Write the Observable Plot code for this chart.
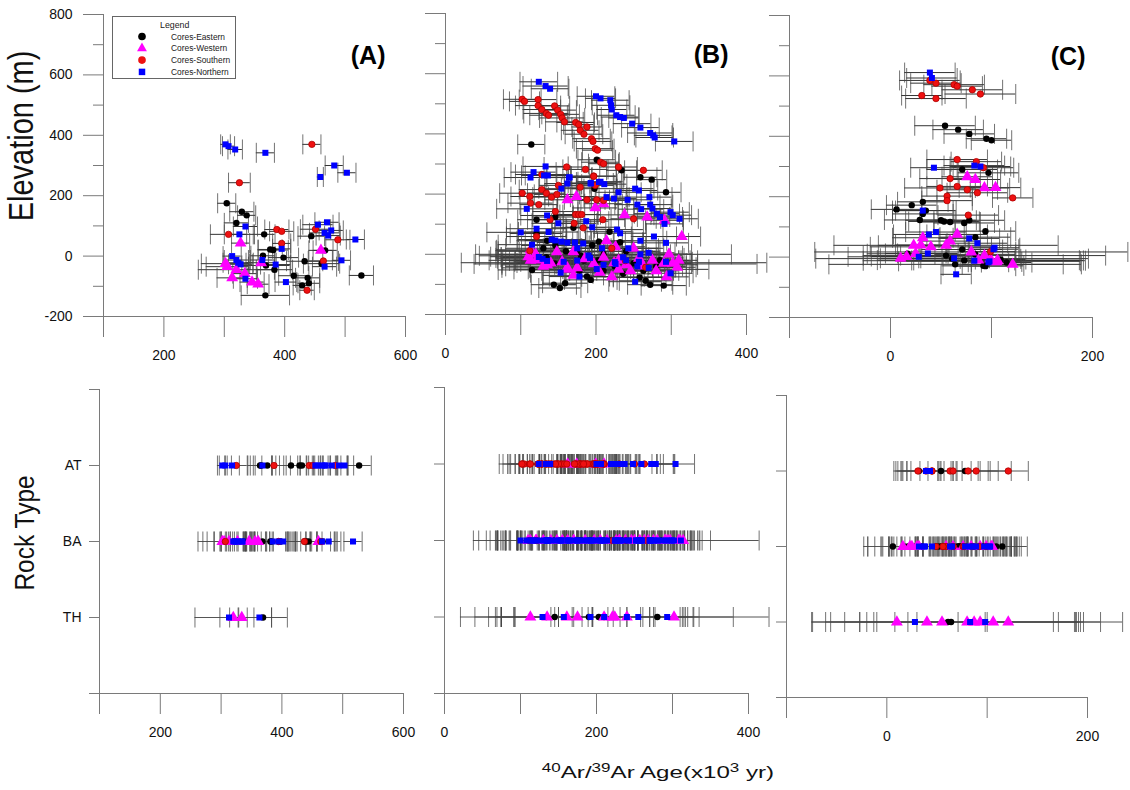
<!DOCTYPE html>
<html><head><meta charset="utf-8">
<script src="https://cdn.jsdelivr.net/npm/d3@7"></script>
<script src="https://cdn.jsdelivr.net/npm/@observablehq/plot@0.6"></script>
<style>
body{margin:0;background:#fff;}
#chart{position:relative;width:1130px;height:790px;overflow:hidden;font-family:"Liberation Sans",Arial,sans-serif;background:#fff;}
#chart svg{position:absolute;}
</style></head><body><div id="chart"></div>
<script>
// ---------- categories / ticks ----------
const groups = ["Cores-Eastern","Cores-Western","Cores-Southern","Cores-Northern"];
const rockTypes = ["TH","BA","AT"];
const xTicksA = [100,200,300,400,500,600], xLabelsA = [200,400,600];
const xTicksB = [0,100,200,300,400], xLabelsB = [0,200,400];
const xTicksC = [-100,0,100,200], xLabelsC = [0,200];
const elevMajor = [-200,0,200,400,600,800];
const elevMinor = [-100,100,300,500,700];
const rockTicks = [0,1,2,3,4];

// ---------- data: [age (ka), elevation (m), age error (ka), rock type] ----------
const A_eastern = [
[304,175,15,"BA"],[329,147,20,"BA"],[337,135,15,"BA"],[320,110,20,"BA"],[366,72,18,"AT"],[444,66,22,"BA"],[376,22,20,"AT"],[381,20,25,"BA"],[364,1,20,"AT"],[398,-5,25,"BA"],[467,19,20,"BA"],[369,-31,40,"TH"],[383,-45,30,"BA"],[415,-65,25,"AT"],[433,-17,30,"AT"],[461,-25,30,"BA"],[438,-72,20,"BA"],[429,-97,15,"AT"],[440,-90,18,"BA"],[368,-130,40,"BA"],[527,-64,20,"AT"]];
const A_western = [
[327,43,15,"BA"],[460,19,20,"BA"],[302,-25,40,"BA"],[305,-35,35,"BA"],[313,-72,25,"BA"],[320,-45,63,"TH"],[334,-58,20,"TH"],[346,-86,20,"BA"],[356,-93,18,"BA"],[361,-22,25,"BA"]];
const A_southern = [
[445,370,15,"AT"],[325,243,18,"AT"],[307,72,30,"BA"],[387,88,20,"AT"],[395,82,20,"BA"],[395,42,15,"BA"],[451,89,25,"AT"],[488,54,20,"AT"],[464,-16,25,"BA"],[437,-113,12,"BA"]];
const A_northern = [
[302,370,8,"AT"],[307,364,10,"AT"],[318,353,12,"AT"],[368,342,15,"AT"],[482,300,15,"AT"],[503,276,15,"AT"],[459,262,5,"AT"],[325,72,25,"BA"],[335,98,20,"BA"],[455,104,25,"AT"],[470,112,20,"AT"],[466,77,25,"AT"],[472,68,20,"AT"],[477,85,20,"BA"],[517,55,15,"BA"],[395,24,15,"BA"],[313,0,15,"TH"],[320,-13,20,"BA"],[323,-22,25,"BA"],[327,-27,20,"BA"],[363,-13,20,"TH"],[385,-28,25,"BA"],[335,-75,20,"BA"],[402,-86,18,"BA"],[466,-35,20,"BA"],[494,-14,15,"AT"]];

const B_eastern = [
[114,365,18,"BA"],[201,314,25,"AT"],[234,279,20,"BA"],[259,256,22,"BA"],[274,248,20,"BA"],[198,218,30,"BA"],[293,206,20,"BA"],[121,115,25,"BA"],[146,124,30,"BA"],[170,88,28,"BA"],[218,75,30,"BA"],[121,69,35,"BA"],[232,40,30,"BA"],[204,42,35,"BA"],[135,45,40,"BA"],[146,29,45,"BA"],[184,-21,40,"BA"],[210,-55,45,"BA"],[236,-65,40,"BA"],[178,-55,50,"BA"],[263,-55,40,"BA"],[266,-88,35,"BA"],[115,-52,45,"BA"],[144,-101,30,"BA"],[152,-112,28,"BA"],[159,-96,30,"BA"],[188,-74,35,"BA"],[193,-85,35,"BA"],[272,-101,30,"BA"],[290,-104,30,"BA"],[258,-77,35,"BA"],[134,-10,60,"TH"],[145,-30,70,"TH"],[190,-5,50,"TH"],[203,-20,110,"TH"],[280,-40,40,"TH"],[210,0,170,"TH"],[160,10,45,"BA"],[250,-30,45,"BA"],[285,-20,40,"BA"],[225,-40,50,"BA"],[130,20,50,"BA"],[195,30,40,"BA"],[240,10,45,"BA"],[180,-5,135,"BA"],[175,10,105,"BA"]];
const B_western = [
[162,181,30,"AT"],[174,192,25,"AT"],[199,154,30,"AT"],[210,168,25,"AT"],[238,131,35,"BA"],[268,124,30,"BA"],[291,113,25,"BA"],[314,59,25,"BA"],[214,45,35,"BA"],[113,15,45,"BA"],[110,-8,50,"BA"],[121,-19,45,"BA"],[226,25,40,"BA"],[257,-13,40,"BA"],[297,1,30,"BA"],[308,-43,25,"BA"],[221,-75,40,"TH"],[246,-55,45,"BA"],[162,-45,50,"BA"],[140,-29,45,"BA"],[197,-32,50,"BA"],[263,-39,40,"BA"],[294,-75,30,"BA"],[170,8,45,"BA"],[148,8,50,"BA"],[113,-20,55,"TH"],[135,-35,60,"TH"],[161,-50,70,"TH"],[175,-45,100,"TH"],[210,-10,60,"TH"],[240,-35,95,"TH"],[302,-30,25,"TH"],[224,-28,203,"TH"],[185,-15,45,"BA"],[275,-20,35,"BA"],[130,-40,50,"BA"],[250,20,40,"BA"],[170,-70,40,"BA"],[120,0,50,"BA"],[280,-55,30,"BA"],[205,-60,45,"BA"],[155,-25,55,"BA"],[230,-20,45,"BA"],[290,-30,30,"BA"],[310,-20,25,"BA"],[230,-50,120,"BA"]];
const B_southern = [
[102,515,25,"AT"],[105,508,20,"AT"],[123,514,25,"AT"],[123,494,30,"AT"],[128,481,25,"AT"],[134,468,30,"AT"],[137,462,25,"AT"],[145,493,20,"AT"],[149,479,25,"AT"],[153,465,25,"AT"],[155,453,30,"AT"],[158,440,25,"AT"],[173,438,25,"AT"],[177,431,20,"AT"],[179,412,25,"AT"],[184,399,25,"AT"],[188,423,20,"AT"],[194,384,25,"AT"],[196,375,25,"AT"],[199,351,25,"AT"],[202,346,20,"AT"],[206,306,25,"AT"],[210,301,20,"AT"],[230,290,25,"AT"],[263,279,25,"AT"],[161,290,30,"AT"],[186,282,30,"AT"],[197,260,30,"AT"],[128,265,35,"AT"],
[102,203,30,"AT"],[112,192,25,"AT"],[113,170,30,"AT"],[124,165,25,"AT"],[128,215,30,"AT"],[134,203,25,"AT"],[141,190,25,"AT"],[148,199,30,"AT"],[150,229,25,"AT"],[179,223,25,"AT"],[197,259,30,"AT"],[199,229,25,"AT"],[188,181,30,"AT"],[201,181,25,"AT"],[210,179,30,"AT"],[146,142,30,"AT"],[173,132,25,"AT"],[177,132,25,"AT"],[181,132,25,"AT"],[139,115,30,"AT"],[171,103,30,"AT"],[183,88,30,"AT"],[209,115,30,"AT"],[250,118,30,"AT"],[112,12,45,"BA"],[121,59,40,"BA"],[221,20,40,"BA"],[239,-21,45,"BA"],[266,-43,40,"BA"]];
const B_northern = [
[124,573,25,"AT"],[133,559,30,"AT"],[139,550,25,"AT"],[200,525,25,"AT"],[206,518,20,"AT"],[219,512,25,"AT"],[220,495,25,"AT"],[221,481,20,"AT"],[227,462,25,"AT"],[232,456,25,"AT"],[237,453,20,"AT"],[248,434,25,"AT"],[259,421,25,"AT"],[272,403,30,"AT"],[276,395,25,"AT"],[278,388,25,"AT"],[304,375,25,"AT"],
[117,273,30,"BA"],[113,255,35,"BA"],[133,292,30,"BA"],[131,262,30,"BA"],[136,262,30,"BA"],[165,256,30,"BA"],[204,240,30,"BA"],[193,235,35,"BA"],[108,151,40,"BA"],[100,73,45,"BA"],[135,129,35,"BA"],[150,103,35,"BA"],[187,110,30,"BA"],[195,90,35,"BA"],[214,190,30,"BA"],[224,185,30,"BA"],[230,206,30,"BA"],[242,181,30,"BA"],[252,218,25,"BA"],[257,212,25,"BA"],[255,165,30,"BA"],[260,150,30,"BA"],[271,190,30,"BA"],[272,165,30,"BA"],[275,152,25,"BA"],[281,135,30,"BA"],[285,124,30,"BA"],[291,101,25,"BA"],[299,140,25,"BA"],[302,130,25,"BA"],[311,118,25,"BA"],[162,235,30,"BA"],[164,255,30,"BA"],[154,218,30,"BA"],[193,237,30,"BA"],[206,241,30,"BA"],[211,233,30,"BA"],
[121,85,40,"BA"],[137,74,40,"BA"],[141,49,45,"BA"],[146,46,40,"BA"],[154,42,40,"BA"],[162,39,40,"BA"],[172,39,40,"BA"],[183,36,40,"BA"],[175,20,45,"BA"],[190,-4,45,"BA"],[228,82,35,"BA"],[232,70,35,"BA"],[259,45,35,"BA"],[277,59,30,"BA"],[293,38,30,"BA"],[243,20,40,"BA"],[270,5,35,"BA"],[208,20,40,"BA"],[124,-9,50,"BA"],[135,-22,50,"BA"],[175,-21,45,"BA"],[201,-49,45,"BA"],[225,-26,45,"BA"],[257,-25,40,"BA"],[270,-45,35,"BA"],[252,-91,35,"BA"],[178,-74,40,"BA"],[153,-61,40,"BA"],[299,-63,30,"BA"],[259,0,40,"BA"],[236,-10,45,"BA"],[115,32,45,"BA"],
[129,-15,60,"TH"],[157,-25,65,"TH"],[192,-12,125,"TH"],[210,-35,60,"TH"],[240,-20,70,"TH"],[255,-40,60,"TH"],[293,-25,35,"TH"],[226,-32,188,"BA"]];

const C_eastern = [
[54,435,30,"AT"],[67,422,25,"BA"],[78,408,25,"AT"],[95,392,20,"BA"],[100,387,20,"BA"],[71,290,35,"BA"],[97,279,30,"BA"],[6,158,25,"BA"],[21,172,25,"BA"],[32,183,25,"AT"],[35,154,30,"BA"],[32,143,30,"BA"],[29,123,35,"BA"],[50,122,35,"BA"],[53,118,35,"BA"],[59,116,30,"BA"],[78,122,35,"BA"],[73,113,30,"BA"],[94,86,30,"BA"],[84,66,35,"BA"],[71,25,40,"BA"],[84,9,40,"BA"],[109,-8,25,"BA"],[17,11,40,"BA"],[55,5,45,"BA"],[73,-11,50,"BA"],[94,-30,30,"BA"],[92,-29,40,"BA"],[115,-18,25,"BA"],[61,-5,135,"TH"],[64,-24,125,"TH"]];
const C_western = [
[76,266,25,"BA"],[84,257,25,"BA"],[93,229,25,"BA"],[104,230,25,"BA"],[66,75,30,"BA"],[32,64,30,"BA"],[23,39,35,"BA"],[59,53,30,"BA"],[16,2,35,"BA"],[25,12,30,"BA"],[30,40,25,"BA"],[99,-6,30,"BA"],[105,-16,25,"BA"],
[10,-4,20,"TH"],[40,34,60,"TH"],[55,39,111,"TH"],[80,17,155,"TH"],[87,-10,100,"TH"],[93,5,120,"TH"],[106,-11,85,"TH"],[121,-24,50,"TH"]];
const C_southern = [
[39,585,30,"AT"],[45,576,25,"AT"],[63,571,30,"AT"],[66,566,25,"AT"],[81,554,30,"AT"],[89,540,35,"AT"],[31,535,20,"AT"],[45,525,30,"AT"],[121,196,20,"AT"],
[66,323,30,"BA"],[85,316,25,"BA"],[92,296,30,"BA"],[59,260,30,"BA"],[49,229,35,"BA"],[66,234,30,"BA"],[76,223,30,"BA"],[86,213,30,"BA"],[56,202,25,"BA"],[56,187,25,"BA"],[77,139,30,"BA"],[99,18,25,"BA"]];
const C_northern = [
[39,611,25,"AT"],[41,593,25,"AT"],[43,296,23,"AT"],[83,303,30,"BA"],[89,300,30,"BA"],[32,154,30,"BA"],[38,75,35,"BA"],[45,83,30,"BA"],[78,62,30,"BA"],[86,46,30,"BA"],[103,31,25,"BA"],[37,12,30,"BA"],[63,-4,35,"BA"],[65,-57,15,"BA"],[102,26,25,"BA"],[97,-17,20,"BA"],
[28,1,70,"TH"],[83,-12,110,"TH"],[98,-14,90,"TH"]];

// ---------- styles ----------
const groupColors = ["#000000","#ff00ff","#ee1111","#0000ff"];
const groupStroke = ["none","none","#b00000","none"];
const groupSymbols = ["circle","triangle","circle","square"];
const groupRadius = [3.2, 4.4, 3.2, 3.4];
const axisGray = "#7a7a7a";
const font = "'Liberation Sans', Arial, sans-serif";

function toRows(lists) {
  return lists.flatMap((list, g) => list.map(([age, elev, err, rock]) => ({g, age, elev, err, rock})));
}
const regions = {
  A: toRows([A_eastern, A_western, A_southern, A_northern]),
  B: toRows([B_eastern, B_western, B_southern, B_northern]),
  C: toRows([C_eastern, C_western, C_southern, C_northern])
};

// vertical end-cap symbol (pixel sized)
const vline = {draw(ctx, size) { const h = Math.sqrt(size / Math.PI); ctx.moveTo(0, -h); ctx.lineTo(0, h); }};

const panels = [
  {key:"A", xDomain:[100,600], xTicks:xTicksA, xLabels:xLabelsA, showY:true, letterDx:-20,
   top:{left:0,top:0,width:420,height:370,mL:103,mR:15,mT:14,mB:54},
   bottom:{left:0,top:375,width:420,height:380,mL:99,mR:17,mT:14,mB:62}},
  {key:"B", xDomain:[0,400], xTicks:xTicksB, xLabels:xLabelsB, showY:false, letterDx:-18,
   top:{left:420,top:0,width:340,height:370,mL:25,mR:14,mT:13,mB:56},
   bottom:{left:420,top:375,width:340,height:380,mL:24,mR:12,mT:12,mB:62}},
  {key:"C", xDomain:[-100,200], xTicks:xTicksC, xLabels:xLabelsC, showY:false, letterDx:-7,
   top:{left:765,top:0,width:365,height:370,mL:24,mR:38,mT:15,mB:53},
   bottom:{left:765,top:375,width:365,height:380,mL:21,mR:43,mT:20,mB:58}}
];

const chart = document.getElementById("chart");

function errorMarks(data, yAcc, lineStroke) {
  return [
    Plot.ruleY(data, {x1: d => d.age - d.err, x2: d => d.age + d.err, y: yAcc, stroke: lineStroke, strokeWidth: 1}),
    Plot.dot(data, {x: d => d.age - d.err, y: yAcc, symbol: vline, r: 10, fill: "none", stroke: "#444", strokeOpacity: 0.75, strokeWidth: 1}),
    Plot.dot(data, {x: d => d.age + d.err, y: yAcc, symbol: vline, r: 10, fill: "none", stroke: "#444", strokeOpacity: 0.75, strokeWidth: 1})
  ];
}
function pointMarks(data, yAcc) {
  return groups.map((g, i) => Plot.dot(data.filter(d => d.g === i), {
    x: "age", y: yAcc, symbol: groupSymbols[i], r: groupRadius[i],
    fill: groupColors[i], stroke: groupStroke[i], strokeWidth: 0.8
  }));
}
function xAxis(p) {
  return Plot.axisX({ticks: p.xTicks, tickSize: 21, tickPadding: 13, label: null,
    tickFormat: d => p.xLabels.includes(d) ? String(d) : "", stroke: axisGray, fill: "#111", fontSize: 14});
}
function place(svg, box) {
  svg.style.left = box.left + "px"; svg.style.top = box.top + "px";
  chart.appendChild(svg);
}
const baseStyle = {fontFamily: font, fontSize: "14px", color: "#111", background: "transparent", overflow: "visible"};

for (const p of panels) {
  const data = regions[p.key];
  // top: elevation vs age
  const t = p.top;
  const topSvg = Plot.plot({
    width: t.width, height: t.height, marginLeft: t.mL, marginRight: t.mR, marginTop: t.mT, marginBottom: t.mB,
    x: {domain: p.xDomain}, y: {domain: [-200, 800]}, style: baseStyle,
    marks: [
      ...errorMarks(data, "elev", "#333"),
      ...pointMarks(data, "elev"),
      Plot.ruleX([p.xDomain[0]], {stroke: axisGray}),
      Plot.ruleY([-200], {x1: p.xDomain[0], x2: p.xDomain[1], stroke: axisGray}),
      xAxis(p),
      Plot.axisY({ticks: elevMajor, tickSize: 20, tickPadding: 11, label: null, stroke: axisGray, fill: "#111", fontSize: 14,
        tickFormat: d => p.showY ? String(d) : ""}),
      Plot.axisY({ticks: elevMinor, tickSize: 10, label: null, stroke: axisGray, tickFormat: () => ""}),
      Plot.text(["(" + p.key + ")"], {text: d => d, frameAnchor: "top-right", textAnchor: "end", lineAnchor: "top",
        dx: p.letterDx, dy: 32, fontSize: 25, fontWeight: "bold", fill: "#000"})
    ]
  });
  place(topSvg, t);

  // bottom: rock type vs age
  const b = p.bottom;
  const rockY = d => rockTypes.indexOf(d.rock) + 1;
  const botSvg = Plot.plot({
    width: b.width, height: b.height, marginLeft: b.mL, marginRight: b.mR, marginTop: b.mT, marginBottom: b.mB,
    x: {domain: p.xDomain}, y: {domain: [0, 4]}, style: baseStyle,
    marks: [
      ...errorMarks(data, rockY, "#555"),
      ...pointMarks(data, rockY),
      Plot.ruleX([p.xDomain[0]], {stroke: axisGray}),
      Plot.ruleY([0], {x1: p.xDomain[0], x2: p.xDomain[1], stroke: axisGray}),
      xAxis(p),
      Plot.axisY({ticks: rockTicks, tickSize: 10, tickPadding: 8, label: null, stroke: axisGray, fill: "#111", fontSize: 14,
        tickFormat: d => (p.showY && d >= 1 && d <= 3) ? rockTypes[d - 1] : ""})
    ]
  });
  place(botSvg, b);
}

// ---------- overlay: axis titles and legend ----------
const legendRows = groups.map((g, i) => {
  const cy = 36.5 + i * 11.8;
  const path = d3.symbol(d3["symbol" + groupSymbols[i][0].toUpperCase() + groupSymbols[i].slice(1)],
    groupSymbols[i] === "triangle" ? 42 : groupSymbols[i] === "square" ? 42 : 46)();
  return `<path d="${path}" transform="translate(142,${cy})" fill="${groupColors[i]}"/>
          <text x="171" y="${cy + 3}" font-size="8.4" fill="#222">${g}</text>`;
}).join("");

const overlay = `
<svg width="1130" height="790" style="left:0;top:0;pointer-events:none" font-family="${font.replace(/'/g, "")}">
  <text transform="translate(33,136) scale(1.18,1) rotate(-90)" text-anchor="middle" font-size="29" fill="#111">Elevation (m)</text>
  <text transform="translate(34,533) scale(1.15,1) rotate(-90)" text-anchor="middle" font-size="24.5" fill="#111">Rock Type</text>
  <text transform="translate(658,778) scale(1.42,1)" text-anchor="middle" font-size="17" fill="#111"><tspan font-size="12" dy="-6">40</tspan><tspan dy="6">Ar/</tspan><tspan font-size="12" dy="-6">39</tspan><tspan dy="6">Ar Age(x10</tspan><tspan font-size="12" dy="-6">3</tspan><tspan dy="6"> yr)</tspan></text>
  <rect x="112.5" y="16.5" width="123" height="62" fill="#fff" stroke="#666" stroke-width="1"/>
  <text x="160" y="28" font-size="8.8" fill="#222">Legend</text>
  ${legendRows}
</svg>`;
chart.insertAdjacentHTML("beforeend", overlay);
</script>
</body></html>
